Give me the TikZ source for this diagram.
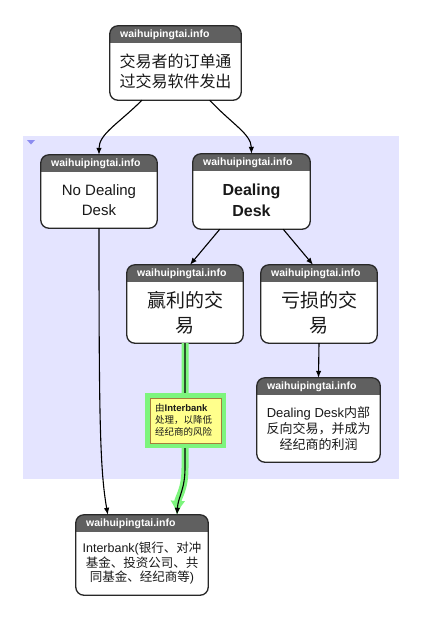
\documentclass[tikz,border=0pt]{standalone}
\usepackage{fontspec}
\setmainfont{Liberation Sans}
\newfontfamily\cjk{Noto Sans CJK SC}
\usetikzlibrary{arrows.meta,calc,fit}
\definecolor{region}{RGB}{228,228,255}
\definecolor{hdr}{RGB}{96,96,96}
\definecolor{bord}{RGB}{40,40,40}
\definecolor{halo}{RGB}{125,245,125}
\definecolor{notey}{RGB}{255,255,140}
\definecolor{noteb}{RGB}{165,125,60}
\definecolor{txt}{RGB}{25,25,25}
\definecolor{marker}{RGB}{140,140,240}
\tikzset{
  conn/.style={draw=black, line width=1.1pt, -{Latex[length=7pt,width=5.5pt]}},
  hdrtext/.style={anchor=west, text=white, inner sep=0pt, font=\bfseries\fontsize{10.5}{12}\selectfont},
  bodytext/.style={align=center, inner sep=0pt, text=txt},
}
% name, x1, y1, x2, y2, font, body
\newcommand\ebox[7]{%
  \node[fit={(#2,#3) (#4,#5)}, inner sep=0pt, rounded corners=8pt, fill=white] (#1) {};
  \begin{scope}
    \clip[rounded corners=8pt] (#2,#3) rectangle (#4,#5);
    \fill[hdr] (#2,#3) rectangle (#4,{#3+17});
  \end{scope}
  \draw[rounded corners=8pt, bord, line width=1.3pt] (#1.south west) rectangle (#1.north east);
  \node[hdrtext] (#1-h) at ({#2+10},{#3+8.5}) {waihuipingtai.info};
  \node[bodytext, font=#6] (#1-b) at ({(#2+#4)/2},{(#3+17+#5)/2}) {#7};
}
\begin{document}
\begin{tikzpicture}[x=1pt, y=-1pt]
\useasboundingbox (0,0) rectangle (422,622);
% group region
\fill[region] (23,136) rectangle (399,479);
\fill[marker] (27,140) -- (35,140) -- (31,144.5) -- cycle;

\ebox{top}{110}{26}{241}{100}{\fontsize{16}{20}\selectfont\cjk}{交易者的订单通\\过交易软件发出}
\ebox{ndd}{41}{155}{157}{228}{\fontsize{15}{20}\selectfont}{No Dealing\\Desk}
\ebox{dd}{193}{154}{310}{229}{\bfseries\fontsize{16}{21}\selectfont}{Dealing\\Desk}
\ebox{win}{127}{265}{243}{343}{\fontsize{19}{25}\selectfont\cjk}{赢利的交\\易}
\ebox{loss}{261}{265}{377}{343}{\fontsize{19}{25}\selectfont\cjk}{亏损的交\\易}
\ebox{inner}{257}{378}{380}{462}{\fontsize{13}{16}\selectfont}{Dealing Desk{\cjk 内部}\\{\cjk 反向交易，并成为}\\{\cjk 经纪商的利润}}
\ebox{ib}{76}{515}{208}{595}{\fontsize{12.5}{14.5}\selectfont}{Interbank({\cjk 银行、对冲}\\{\cjk 基金、投资公司、共}\\{\cjk 同基金、经纪商等})}

% connectors
\draw[conn] ($(top.south west)!0.245!(top.south east)$) .. controls (118,124) and (99,134) .. (ndd.north);
\draw[conn] ($(top.south west)!0.76!(top.south east)$) .. controls (232,124) and (251,134) .. (dd.north);
\draw[conn] ($(dd.south west)!0.23!(dd.south east)$) -- ($(win.north)+(5,0)$);
\draw[conn] ($(dd.south west)!0.77!(dd.south east)$) -- ($(loss.north)+(-6,0)$);
\draw[conn] (loss.south) -- (inner.north);
\draw[conn] (ndd.south) .. controls (99,420) and (100,470) .. ($(ib.north west)+(32,0)$);

% highlighted connector
\coordinate (g1) at (185,468);
\draw[halo, line width=7pt, -{Latex[length=14pt,width=15pt]}] (win.south) -- (g1) .. controls (185,490) and (178,497) .. ($(ib.north)+(35,0)$);
\draw[conn] (win.south) -- (g1) .. controls (185,490) and (178,497) .. ($(ib.north)+(35,0)$);

% note
\node[fit={(145,393) (226,448)}, inner sep=0pt, fill=halo] (noteh) {};
\node[fit={(150,398) (221,443)}, inner sep=0pt, fill=notey, draw=noteb, line width=0.9pt] (note) {};
\node[anchor=west, align=left, inner sep=0pt, text=txt, font=\fontsize{9.5}{12.3}\selectfont] (notet) at (155,420) {{\cjk 由}\textbf{Interbank}\\{\cjk 处理，以降低}\\{\cjk 经纪商的风险}};
\end{tikzpicture}
\end{document}
